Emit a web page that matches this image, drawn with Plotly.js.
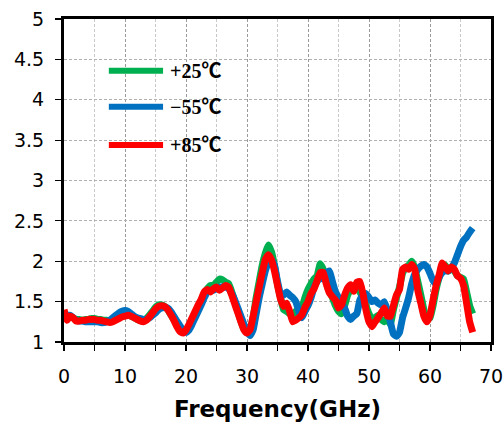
<!DOCTYPE html>
<html>
<head>
<meta charset="utf-8">
<script src="https://cdn.plot.ly/plotly-3.0.1.min.js"></script>
<style>html,body{margin:0;padding:0;background:#fff;}#chart{width:504px;height:423px;}</style>
</head>
<body>
<div id="chart"></div>
<script>
var freq = [0,0.5,1,1.5,2,2.5,3,3.5,4,4.5,5,5.5,6,6.5,7,7.5,8,8.5,9,9.5,10,10.5,11,11.5,12,12.5,13,13.5,14,14.5,15,15.5,16,16.5,17,17.5,18,18.5,19,19.5,20,20.5,21,21.5,22,22.5,23,23.5,24,24.5,25,25.5,26,26.5,27,27.5,28,28.5,29,29.5,30,30.5,31,31.5,32,32.5,33,33.5,34,34.5,35,35.5,36,36.5,37,37.5,38,38.5,39,39.5,40,40.5,41,41.5,42,42.5,43,43.5,44,44.5,45,45.5,46,46.5,47,47.5,48,48.5,49,49.5,50,50.5,51,51.5,52,52.5,53,53.5,54,54.5,55,55.5,56,56.5,57,57.5,58,58.5,59,59.5,60,60.5,61,61.5,62,62.5,63,63.5,64,64.5,65,65.5,66,66.5,67];

var green25 = [1.36,1.30,1.32,1.30,1.28,1.28,1.27,1.28,1.28,1.29,1.29,1.28,1.28,1.27,1.27,1.26,1.27,1.29,1.31,1.33,1.34,1.34,1.32,1.30,1.28,1.27,1.27,1.29,1.33,1.38,1.43,1.46,1.46,1.44,1.40,1.34,1.28,1.21,1.15,1.12,1.14,1.20,1.27,1.34,1.42,1.52,1.60,1.66,1.70,1.70,1.74,1.78,1.77,1.74,1.72,1.62,1.50,1.38,1.26,1.16,1.12,1.16,1.30,1.55,1.75,1.95,2.10,2.20,2.12,1.95,1.72,1.55,1.40,1.38,1.35,1.33,1.38,1.35,1.42,1.55,1.65,1.72,1.78,1.82,1.97,1.90,1.78,1.65,1.55,1.45,1.38,1.35,1.45,1.58,1.65,1.68,1.70,1.62,1.55,1.45,1.35,1.28,1.30,1.33,1.28,1.25,1.30,1.22,1.40,1.55,1.68,1.85,1.92,1.95,2.00,1.92,1.75,1.58,1.40,1.28,1.30,1.45,1.65,1.80,1.92,1.95,1.88,1.90,1.88,1.82,1.80,1.78,1.62,1.45,1.35];

var blue55 = [1.35,1.33,1.33,1.30,1.27,1.26,1.26,1.25,1.25,1.25,1.25,1.25,1.24,1.24,1.25,1.27,1.30,1.33,1.36,1.38,1.39,1.38,1.35,1.32,1.30,1.29,1.28,1.28,1.30,1.33,1.36,1.40,1.42,1.43,1.42,1.38,1.32,1.26,1.20,1.15,1.12,1.15,1.22,1.30,1.38,1.46,1.55,1.62,1.63,1.64,1.66,1.68,1.68,1.68,1.66,1.60,1.52,1.42,1.32,1.22,1.13,1.08,1.15,1.35,1.55,1.72,1.88,1.98,2.02,1.95,1.75,1.60,1.58,1.62,1.58,1.55,1.50,1.38,1.30,1.38,1.45,1.55,1.68,1.75,1.80,1.78,1.85,1.88,1.75,1.62,1.55,1.48,1.42,1.32,1.28,1.32,1.35,1.52,1.58,1.60,1.55,1.50,1.52,1.48,1.46,1.50,1.40,1.25,1.10,1.07,1.12,1.30,1.42,1.55,1.72,1.84,1.90,1.94,1.96,1.93,1.85,1.76,1.72,1.80,1.86,1.88,1.88,1.92,1.98,2.08,2.18,2.26,2.30,2.36,2.41];

var red85 = [1.40,1.27,1.32,1.30,1.26,1.26,1.27,1.27,1.28,1.28,1.28,1.27,1.27,1.26,1.25,1.24,1.25,1.27,1.29,1.31,1.32,1.33,1.32,1.30,1.28,1.26,1.25,1.27,1.31,1.36,1.41,1.44,1.45,1.44,1.40,1.34,1.27,1.19,1.13,1.11,1.15,1.22,1.30,1.38,1.46,1.53,1.62,1.65,1.62,1.66,1.68,1.64,1.67,1.70,1.68,1.58,1.47,1.36,1.25,1.15,1.11,1.15,1.32,1.50,1.68,1.86,2.02,2.08,2.02,1.88,1.70,1.53,1.44,1.48,1.38,1.25,1.27,1.30,1.34,1.43,1.50,1.60,1.66,1.76,1.86,1.86,1.72,1.61,1.56,1.52,1.42,1.46,1.58,1.67,1.71,1.63,1.74,1.75,1.60,1.40,1.25,1.19,1.25,1.30,1.36,1.42,1.32,1.32,1.45,1.58,1.65,1.90,1.93,1.90,1.96,1.90,1.64,1.48,1.32,1.25,1.33,1.52,1.70,1.83,1.98,1.93,1.88,1.93,1.90,1.82,1.79,1.70,1.48,1.25,1.12];

var seriesNames = ['+25℃', '\u221255℃', '+85℃'];
var seriesColors = ['#00B050', '#0070C0', '#FF0000'];
var seriesData = [green25, blue55, red85];

var traces = seriesData.map(function (vals, i) {
  return {
    x: freq, y: vals, type: 'scatter', mode: 'lines', name: seriesNames[i],
    line: {color: seriesColors[i], width: 7, shape: 'spline', smoothing: 0.4},
    showlegend: false, hoverinfo: 'skip'
  };
});

// legend drawn inside the plot area
var legY = [0.84, 0.728, 0.61];
var shapes = [], annotations = [];
seriesNames.forEach(function (n, i) {
  shapes.push({type: 'line', xref: 'paper', yref: 'paper', x0: 0.105, x1: 0.232, y0: legY[i], y1: legY[i],
    line: {color: seriesColors[i], width: 6}, layer: 'above'});
  annotations.push({xref: 'paper', yref: 'paper', x: 0.243, y: legY[i], xanchor: 'left', yanchor: 'middle',
    text: '<b>' + n + '</b>', showarrow: false,
    font: {family: 'Liberation Serif, Noto Sans CJK JP, serif', size: 20, color: '#000'}});
});

var layout = {
  width: 504, height: 423,
  margin: {l: 63.5, r: 12.5, t: 19.3, b: 81.3, pad: 0},
  paper_bgcolor: '#fff', plot_bgcolor: '#fff',
  font: {family: 'DejaVu Sans, Verdana, sans-serif', size: 19, color: '#000'},
  xaxis: {
    range: [0, 70], dtick: 10, tick0: 0,
    showline: true, linewidth: 3, linecolor: '#000', mirror: true,
    ticks: 'outside', ticklen: 6, tickwidth: 1.2, tickcolor: '#000',
    ticklabelstandoff: 9,
    showgrid: true, gridcolor: '#9a9a9a', gridwidth: 1, griddash: '3px,2px',
    minor: {dtick: 5, ticks: 'outside', ticklen: 6, tickwidth: 1.2, tickcolor: '#000',
      showgrid: true, gridcolor: '#c8c8c8', gridwidth: 1, griddash: '3px,2px'},
    zeroline: false,
    tickfont: {size: 19},
    title: {text: '<b>Frequency(GHz)</b>', font: {family: 'DejaVu Sans, sans-serif', size: 23}, standoff: 16}
  },
  yaxis: {
    range: [1, 5], dtick: 0.5, tick0: 1,
    showline: true, linewidth: 3, linecolor: '#000', mirror: true,
    ticks: 'outside', ticklen: 6, tickwidth: 1.2, tickcolor: '#000',
    ticklabelstandoff: 7,
    showgrid: true, gridcolor: '#b0b0b0', gridwidth: 1, griddash: '3px,2px',
    zeroline: false,
    tickfont: {size: 19}
  },
  shapes: shapes,
  annotations: annotations
};

Plotly.newPlot('chart', traces, layout, {displayModeBar: false, staticPlot: true});
</script>
</body>
</html>
